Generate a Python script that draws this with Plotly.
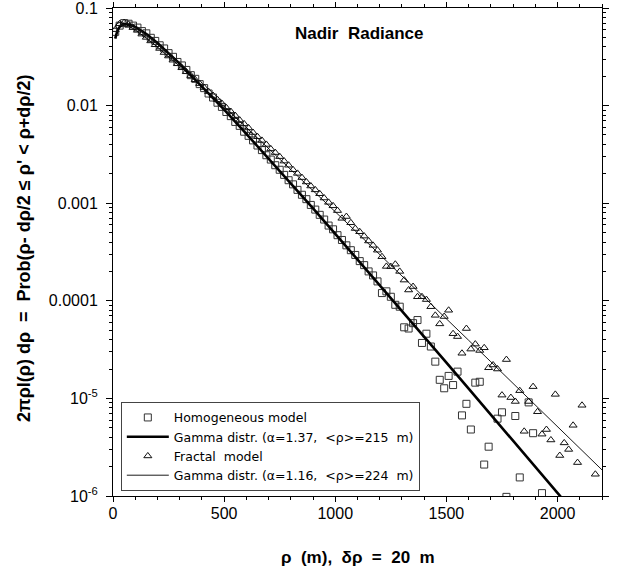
import plotly.graph_objects as go

# ---------------- data ----------------
hom_rho = [10, 30, 50, 70, 90, 110, 130, 150, 170, 190,
           210, 230, 250, 270, 290, 310, 330, 350, 370, 390,
           410, 430, 450, 470, 490, 510, 530, 550, 570, 590,
           610, 630, 650, 670, 690, 710, 730, 750, 770, 790,
           810, 830, 850, 870, 890, 910, 930, 950, 970, 990,
           1010, 1030, 1050, 1070, 1090, 1110, 1130, 1150, 1170, 1190,
           1210, 1230, 1250, 1270, 1290, 1310, 1330, 1350, 1370, 1390,
           1410, 1430, 1450, 1470, 1490, 1510, 1530, 1550, 1570, 1590,
           1610, 1630, 1650, 1670, 1690, 1730, 1750, 1770, 1810, 1830,
           1870, 1890, 1930]
hom_p = [0.057, 0.066, 0.070, 0.069, 0.066, 0.063, 0.058, 0.055, 0.0495, 0.046,
         0.0415, 0.0385, 0.0345, 0.0316, 0.0280, 0.0258, 0.0232, 0.0205, 0.0188, 0.0166,
         0.0151, 0.0133, 0.0121, 0.0107, 0.0097, 0.0086, 0.0078, 0.0068, 0.0062, 0.0054,
         0.0049, 0.0044, 0.0039, 0.0035, 0.0031, 0.0028, 0.00245, 0.0022, 0.00195, 0.00172,
         0.00156, 0.00137, 0.00122, 0.00110, 0.00096, 0.00086, 0.00076, 0.00068, 0.00059, 0.00054,
         0.00047, 0.00042, 0.00037, 0.00033, 0.000295, 0.000255, 0.000232, 0.000200, 0.000182, 0.000158,
         1.2e-4, 1.25e-4, 1.10e-4, 9.1e-5, 8.7e-5, 5.35e-5, 5.2e-5, 5.9e-5, 6.35e-5, 3.7e-5,
         4.6e-5, 3.4e-5, 2.38e-5, 1.55e-5, 1.27e-5, 1.7e-5, 1.37e-5, 1.88e-5, 6.7e-6, 8.8e-6,
         4.8e-6, 1.45e-5, 1.48e-5, 2.1e-6, 3.2e-6, 6.2e-6, 7.2e-6, 9.8e-7, 6.6e-6, 1.55e-6,
         9.1e-6, 4.4e-6, 1.07e-6]

frac_rho = [10, 30, 50, 70, 90, 110, 130, 150, 170, 190,
            210, 230, 250, 270, 290, 310, 330, 350, 370, 390,
            410, 430, 450, 470, 490, 510, 530, 550, 570, 590,
            610, 630, 650, 670, 690, 710, 730, 750, 770, 790,
            810, 830, 850, 870, 890, 910, 930, 950, 970, 990,
            1010, 1030, 1050, 1070, 1090, 1110, 1130, 1150, 1170, 1190,
            1210, 1230, 1250, 1270, 1290, 1310, 1330, 1350, 1370, 1390,
            1410, 1430, 1450, 1470, 1490, 1510, 1530, 1550, 1570, 1590,
            1610, 1630, 1650, 1670, 1690, 1710, 1730, 1750, 1770, 1790,
            1810, 1830, 1850, 1870, 1890, 1910, 1930, 1950, 1970, 1990,
            2010, 2030, 2050, 2070, 2090, 2110, 2170]
frac_p = [0.060, 0.069, 0.071, 0.068, 0.063, 0.059, 0.054, 0.050, 0.046, 0.042,
          0.0385, 0.0350, 0.0322, 0.0292, 0.0268, 0.0244, 0.0222, 0.0203, 0.0184, 0.0168,
          0.0153, 0.0139, 0.0127, 0.0115, 0.0105, 0.0095, 0.0087, 0.0079, 0.0071, 0.0065,
          0.0059, 0.0053, 0.0048, 0.0044, 0.0040, 0.0036, 0.0033, 0.0030, 0.0027, 0.00245,
          0.0022, 0.00202, 0.00183, 0.00165, 0.00150, 0.00137, 0.00125, 0.00113, 0.00102, 0.00094,
          0.00084, 0.00070, 0.00073, 0.00063, 0.00055, 0.00051, 0.00046, 0.00041, 0.00037, 0.00033,
          2.83e-4, 2.25e-4, 2.24e-4, 2.37e-4, 2.0e-4, 1.63e-4, 1.29e-4, 1.4e-4, 1.1e-4, 1.1e-4,
          1.03e-4, 8.7e-5, 7.1e-5, 5.8e-5, 6.9e-5, 8.0e-5, 4.6e-5, 4.3e-5, 2.9e-5, 5.2e-5,
          3.2e-5, 3.6e-5, 3.1e-5, 3.3e-5, 2.06e-5, 2.2e-5, 2.0e-5, 1.08e-5, 2.5e-5, 1.02e-5,
          9.3e-6, 1.2e-5, 4.6e-6, 9.3e-6, 1.32e-5, 7.3e-6, 4.3e-6, 4.8e-6, 3.75e-6, 1.1e-5,
          2.6e-6, 3.5e-6, 3.0e-6, 5.3e-6, 2.2e-6, 8.5e-6, 1.67e-6]

# Gamma-distribution fit curves
gam_h_rho = [10, 20, 30, 40, 50, 60, 80, 100, 150, 200, 300, 400, 500, 600, 700, 800,
             900, 1000, 1100, 1200, 1300, 1400, 1500, 1600, 1700, 1800, 1900, 2000, 2100]
gam_h_p = [0.0485, 0.0589, 0.0642, 0.0670, 0.0682, 0.0685, 0.0671, 0.0641, 0.0542, 0.0438,
           0.0269, 0.01583, 0.00909, 0.00514, 0.00288, 0.00160, 0.000884, 0.000486, 0.000266,
           0.000145, 7.91e-5, 4.30e-5, 2.33e-5, 1.26e-5, 6.83e-6, 3.69e-6, 1.99e-6, 1.07e-6, 5.8e-7]

gam_f_rho = [10, 20, 30, 40, 50, 60, 80, 100, 150, 200, 300, 400, 500, 600, 700, 800,
             900, 1000, 1100, 1200, 1300, 1400, 1500, 1600, 1700, 1800, 1900, 2000, 2100, 2200]
gam_f_p = [0.0659, 0.0699, 0.0708, 0.0704, 0.0692, 0.0677, 0.0639, 0.0597, 0.0492, 0.0398,
           0.0253, 0.01577, 0.00974, 0.00597, 0.00365, 0.00222, 0.00135, 0.000817, 0.000494,
           0.000299, 0.000180, 0.000109, 6.54e-5, 3.94e-5, 2.37e-5, 1.42e-5, 8.56e-6, 5.14e-6,
           3.09e-6, 1.85e-6]

x_ticks = [0, 500, 1000, 1500, 2000]
x_minor = [100, 200, 300, 400, 600, 700, 800, 900, 1100, 1200, 1300, 1400,
           1600, 1700, 1800, 1900, 2100, 2200]
y_ticks = [1e-6, 1e-5, 1e-4, 1e-3, 1e-2, 1e-1]
y_ticktext = ["10<sup>-6</sup>", "10<sup>-5</sup>", "0.0001", "0.001", "0.01", "0.1"]
y_minor = [m * 10.0 ** e for e in range(-6, -1) for m in range(2, 10)]

legend_names = ["Homogeneous model",
                "Gamma distr. (\u03b1=1.37,\u00a0 <\u03c1>=215\u00a0 m)",
                "Fractal\u00a0 model",
                "Gamma distr. (\u03b1=1.16,\u00a0 <\u03c1>=224\u00a0 m)"]

FONT = "Liberation Sans, Arial, Helvetica, sans-serif"

fig = go.Figure()
fig.add_trace(go.Scatter(x=hom_rho, y=hom_p, mode="markers", name=legend_names[0],
                         marker=dict(symbol="square-open", size=7, color="#333333",
                                     line=dict(width=1, color="#333333"))))
fig.add_trace(go.Scatter(x=gam_h_rho, y=gam_h_p, mode="lines", name=legend_names[1],
                         line=dict(color="black", width=2.6)))
fig.add_trace(go.Scatter(x=frac_rho, y=frac_p, mode="markers", name=legend_names[2],
                         marker=dict(symbol="triangle-up-open", size=7, color="#111111",
                                     line=dict(width=1, color="#111111"))))
fig.add_trace(go.Scatter(x=gam_f_rho, y=gam_f_p, mode="lines", name=legend_names[3],
                         line=dict(color="black", width=0.9)))

fig.update_layout(
    width=618, height=571,
    margin=dict(l=113, r=16, t=8, b=75),
    paper_bgcolor="white", plot_bgcolor="white",
    font=dict(family=FONT, color="black", size=16),
    showlegend=True,
    legend=dict(x=0.016, y=0.193, xanchor="left", yanchor="top",
                bordercolor="#444444", borderwidth=1, bgcolor="white",
                font=dict(family="DejaVu Sans, " + FONT, size=12.5), itemwidth=42,
                tracegroupgap=0),
    xaxis=dict(range=[0, 2200], tickvals=x_ticks, ticks="outside", ticklen=5,
               tickwidth=1, tickcolor="black", showline=True, linecolor="black",
               linewidth=1, mirror="ticks", showgrid=False, zeroline=False,
               automargin=False, tickfont=dict(size=16), ticklabelstandoff=-2,
               ticklabeloverflow="allow",
               minor=dict(tickvals=x_minor, ticks="outside", ticklen=3,
                          tickcolor="black", showgrid=False)),
    yaxis=dict(type="log", range=[-6, -1], tickvals=y_ticks, ticktext=y_ticktext,
               ticks="outside", ticklen=6, tickwidth=1, tickcolor="black",
               showline=True, linecolor="black", linewidth=1, mirror="ticks",
               showgrid=False, zeroline=False, automargin=False,
               tickfont=dict(size=16), ticklabelstandoff=5,
               ticklabeloverflow="allow",
               minor=dict(tickvals=y_minor, ticks="outside", ticklen=3,
                          tickcolor="black", showgrid=False)),
    annotations=[
        dict(text="<b>Nadir\u00a0 Radiance</b>", xref="paper", yref="paper",
             x=0.505, y=0.947, xanchor="center", yanchor="middle", showarrow=False,
             font=dict(size=17, family=FONT)),
        dict(text="<b>\u03c1\u00a0 (m),\u00a0 \u03b4\u03c1\u00a0 =\u00a0 20\u00a0 m</b>",
             xref="paper", yref="paper", x=0.5, y=-0.125, xanchor="center",
             yanchor="middle", showarrow=False, font=dict(size=17, family=FONT)),
        dict(text="<b>2\u03c0\u03c1I(\u03c1)\u00a0d\u03c1\u00a0 =\u00a0 Prob(\u03c1-\u00a0d\u03c1/2 \u2264 \u03c1' &lt; \u03c1+d\u03c1/2)</b>",
             xref="paper", yref="paper", x=-0.182, y=0.508, xanchor="center",
             yanchor="middle", textangle=-90, showarrow=False,
             font=dict(size=18, family=FONT)),
    ],
)

fig.write_html("out.html")
